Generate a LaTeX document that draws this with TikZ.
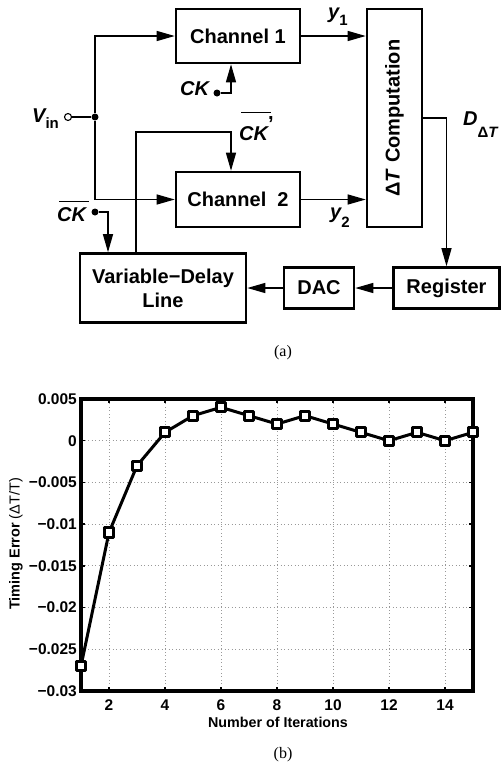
\documentclass[tikz,border=0pt]{standalone}
\usepackage{fontspec}
\setmainfont{Liberation Sans}
\newfontfamily\capserif{Liberation Serif}
\usetikzlibrary{arrows.meta, positioning, calc, plotmarks}

\newcommand{\sbx}[2]{\raisebox{#1}{\fontsize{15}{15}\selectfont #2}}
\newcommand{\ovck}[1]{\rlap{\hspace{2pt}\rule[#1]{30pt}{1.4pt}}CK}

\begin{document}
\begin{tikzpicture}[
  x=1pt, y=-1pt,
  font=\fontsize{20}{24}\selectfont\bfseries,
  blk/.style={draw, line width=2.6pt, inner sep=0pt, align=center},
  arr/.style={-{Triangle[length=18pt,width=10pt]}, line width=1.3pt},
  wire/.style={line width=1.3pt},
  dot/.style={circle, fill, inner sep=0pt, minimum size=7pt},
  pin/.style={circle, draw, fill=white, line width=1.1pt, inner sep=0pt, minimum size=7pt},
  sig/.style={font=\fontsize{20}{24}\selectfont\bfseries\itshape, inner sep=0pt, anchor=base west},
  subcap/.style={font=\fontsize{16}{18}\selectfont\capserif},
  grd/.style={gray!80, line width=0.8pt, dash pattern=on 0.9pt off 2.6pt},
  tck/.style={line width=1.3pt},
  tlbl/.style={font=\fontsize{15.5}{17}\selectfont\bfseries, inner sep=0pt}
]
  \useasboundingbox (0,0) rectangle (501,766);

  \node[blk, minimum width=124, minimum height=54] (ch1) at (238,36)    {Channel 1};
  \node[blk, minimum width=124, minimum height=55] (ch2) at (238,199.5) {Channel\ \ 2};
  \node[blk, minimum width=55, minimum height=218] (dtc) at (394.5,118)
       {\rotatebox{90}{Δ\textit{T} Computation}};
  \node[blk, minimum width=106, minimum height=41] (reg) at (446.5,288) {Register};
  \node[blk, minimum width=70, minimum height=41]  (dac) at (319,288)   {DAC};
  \node[blk, minimum width=166, minimum height=69] (vdl) at (163,288)
       {Variable−Delay\\Line};

  \node[pin] (vin) at (68,117) {};
  \node[dot] (jn)  at (95,117) {};
  \node[dot] (ck)  at (217,93) {};
  \node[dot] (ckb) at (95,212) {};
  \coordinate (ckbend) at (231,132);

  \node[sig] (vinlbl) at (32,122)  {V\sbx{-6pt}{\upshape in}};
  \node[sig] (cklbl)  at (180,95)  {CK};
  \node[sig] (ckblbl) at (57,221)  {\ovck{19pt}};
  \node[sig] (ckplbl) at (239,140) {\ovck{27pt}\raisebox{21pt}{\upshape ,}};
  \node[sig] (y1lbl)  at (328,18)  {y\sbx{-7pt}{\upshape 1}};
  \node[sig] (y2lbl)  at (330,218) {y\sbx{-9pt}{\upshape 2}};
  \node[sig] (dlbl)   at (463,125) {D\sbx{-12pt}{\upshape Δ\itshape T}};

  \draw[wire] (vin) -- (jn);
  \draw[arr] (jn) |- (ch1);
  \draw[arr] (jn) |- (ch2);
  \draw[arr] (ck) -| ([xshift=-7pt]ch1.south);
  \draw[arr] ([xshift=-27pt]vdl.north) |- (ckbend) -- (ckbend |- ch2.north);
  \draw[arr] (ckb) -| ([xshift=-55pt]vdl.north);
  \draw[arr] (ch1) -- (ch1 -| dtc.west);
  \draw[arr] (ch2) -- (ch2 -| dtc.west);
  \draw[arr] (dtc.east) -| (reg.north);
  \draw[arr] (reg) -- (dac);
  \draw[arr] (dac) -- (vdl);

  \node[subcap] (capa) at (283,353) {(a)};

  \begin{scope}[shift={(53,440.7)}, x=28pt, y=8.343pt]
    \foreach \i in {2,4,...,14} \draw[grd] (\i,-30) -- (\i,5);
    \foreach \v in {-25,-20,...,0} \draw[grd] (1,\v) -- (15,\v);
    \foreach \i in {2,4,...,14} {
      \draw[tck] (\i,-30) -- ++(0,4pt);
      \draw[tck] (\i,5) -- ++(0,-4pt);
    }
    \foreach \v in {-25,-20,...,0} {
      \draw[tck] (1,\v) -- ++(4pt,0);
      \draw[tck] (15,\v) -- ++(-4pt,0);
    }
    \draw[line width=3.2pt] (1,-30) rectangle (15,5);
    \draw[line width=3pt, line join=round, mark=square*, mark size=4.6pt,
          mark options={fill=white, line width=3pt}]
      plot coordinates {(1,-27) (2,-11) (3,-3) (4,1) (5,3) (6,4) (7,3) (8,2)
                        (9,3) (10,2) (11,1) (12,0) (13,1) (14,0) (15,1)};
    \foreach \v/\t [count=\k] in {5/0.005, 0/0, -5/−0.005, -10/−0.01,
        -15/−0.015, -20/−0.02, -25/−0.025, -30/−0.03}
      \node[tlbl, anchor=east] (yt\k) at ([xshift=-4pt]1,\v) {\t};
    \foreach \i in {2,4,...,14}
      \node[tlbl, anchor=north] (xt\i) at ([yshift=-8.5pt]\i,-30) {\i};
  \end{scope}

  \node[font=\fontsize{14.3}{16}\selectfont\bfseries] (xttl) at (278,722) {Number of Iterations};
  \node[rotate=90, font=\fontsize{14.5}{16}\selectfont\bfseries] (yttl) at (16,544)
       {Timing Error {\mdseries(ΔT/T)}};

  \node[subcap] (capb) at (283,755) {(b)};
\end{tikzpicture}
\end{document}
